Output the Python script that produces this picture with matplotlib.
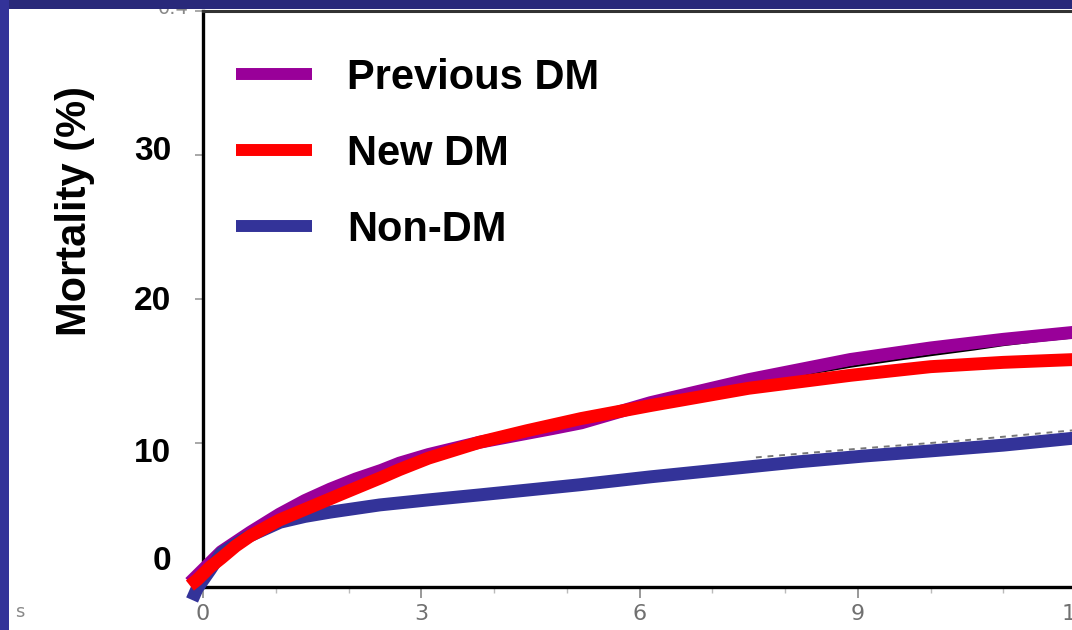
import matplotlib
matplotlib.use("Agg")
import matplotlib.pyplot as plt
from matplotlib.patches import Rectangle

# data (years, mortality %)
t_prev = [-0.18, -0.08, 0.25, 0.65, 1.05, 1.4, 1.75, 2.1, 2.45, 2.7, 3.1, 3.8, 4.8, 5.2, 6.15, 7.5, 8.9, 10.0, 11.0, 12.0]
y_prev = [0.3, 0.8, 2.45, 3.8, 5.05, 6.0, 6.8, 7.5, 8.1, 8.6, 9.2, 10.05, 11.0, 11.4, 12.8, 14.4, 15.8, 16.6, 17.2, 17.7]

t_new = [-0.18, -0.08, 0.1, 0.25, 0.45, 0.65, 1.05, 1.5, 1.9, 2.45, 2.7, 3.1, 3.8, 4.45, 5.2, 6.15, 7.5, 8.9, 10.0, 11.0, 12.0]
y_new = [0.1, 0.5, 1.4, 2.0, 2.85, 3.55, 4.65, 5.6, 6.45, 7.6, 8.15, 8.95, 10.05, 10.85, 11.7, 12.6, 13.8, 14.7, 15.3, 15.6, 15.8]

t_non = [-0.15, -0.08, 0.1, 0.25, 0.6, 1.06, 1.4, 1.75, 2.43, 3.1, 3.81, 5.18, 6.15, 8.2, 9.1, 10.0, 11.0, 12.0]
y_non = [-0.9, -0.1, 1.2, 2.35, 3.45, 4.5, 4.9, 5.2, 5.7, 6.05, 6.4, 7.1, 7.65, 8.7, 9.1, 9.45, 9.85, 10.35]

# original KM curves showing through
t_km_prev = [7.5, 8.2, 8.9, 9.5, 10.0, 10.6, 11.0, 11.5, 12.0]
y_km_prev = [14.0, 14.7, 15.3, 15.75, 16.1, 16.5, 16.8, 17.1, 17.35]
t_km_non = [7.6, 9.0, 10.5, 12.0]
y_km_non = [9.0, 9.6, 10.2, 10.9]

labels = ["Previous DM", "New DM", "Non-DM"]
colors = ["#990099", "#ff0000", "#333399"]
x_ticks = [0, 3, 6, 9, 12]
y_ticks = [10, 20, 30, 40]
y_labels = ["30", "20", "10", "0"]

W, H = 1072, 630
fig = plt.figure(figsize=(W / 100, H / 100), dpi=100)
fig.patch.set_facecolor("white")

ax = fig.add_axes([203 / W, 43 / H, 873 / W, 576 / H])
ax.set_xlim(0, 12)
ax.set_ylim(0, 40)

ax.plot(t_km_prev, y_km_prev, color="black", lw=1.6, zorder=2, clip_on=False)
ax.plot(t_km_non, y_km_non, color="#777777", lw=1.4, ls=(0, (3, 3)), zorder=2, clip_on=False)

lw = 9.3
kw = dict(lw=lw, solid_capstyle="butt", solid_joinstyle="round", clip_on=False)
l_prev, = ax.plot(t_prev, y_prev, color=colors[0], zorder=3, **kw)
l_non, = ax.plot(t_non, y_non, color=colors[2], zorder=3, **kw)
l_new, = ax.plot(t_new, y_new, color=colors[1], zorder=4, **kw)

for s in ["left", "bottom"]:
    ax.spines[s].set_linewidth(2.4)
    ax.spines[s].set_color("black")
ax.spines["top"].set_linewidth(2.2)
ax.spines["top"].set_color("#333333")
ax.spines["right"].set_visible(False)

ax.set_xticks(x_ticks)
ax.set_xticks(range(0, 13), minor=True)
ax.set_xticklabels([str(v) for v in x_ticks], fontsize=16, color="#707070", family="DejaVu Sans")
ax.tick_params(axis="x", which="major", length=8, width=1.2, color="#888888", pad=4)
ax.tick_params(axis="x", which="minor", length=4, width=1.0, color="#bbbbbb")
ax.set_yticks(y_ticks)
ax.set_yticklabels([])
ax.tick_params(axis="y", length=6, width=1.2, color="#999999")

leg = ax.legend([l_prev, l_new, l_non], labels, loc="upper left",
                bbox_to_anchor=(236 / W, 1 - 58 / H), bbox_transform=fig.transFigure,
                frameon=False, borderpad=0, borderaxespad=0,
                handlelength=1.82, handletextpad=0.85, labelspacing=0.86,
                prop={"family": "Liberation Sans", "weight": "bold", "size": 30})
for h in leg.legend_handles:
    h.set_linewidth(8.6)

# overlaid labels
fig.text(75 / W, 1 - 211 / H, "Mortality (%)", rotation=90, ha="center", va="center",
         fontsize=30, fontweight="bold", family="Liberation Sans")
for lab, py in zip(y_labels, [151, 301, 454, 561]):
    fig.text(171 / W, 1 - py / H, lab, ha="right", va="center",
             fontsize=24, fontweight="bold", family="Liberation Sans")

fig.text(173 / W, 1 - 8 / H, "0.4", ha="center", va="center", fontsize=14, color="#888888", zorder=5)
fig.text(15 / W, 1 - 612 / H, "s", ha="left", va="center", fontsize=13, color="#888888")

# blue frame
fig.patches.append(Rectangle((0, 1 - 9 / H), 1, 9 / H, transform=fig.transFigure,
                             facecolor="#29297a", edgecolor="none", zorder=10))
fig.patches.append(Rectangle((0, 0), 9 / W, 1, transform=fig.transFigure,
                             facecolor="#333399", edgecolor="none", zorder=10))

fig.savefig("out.png", dpi=100)
